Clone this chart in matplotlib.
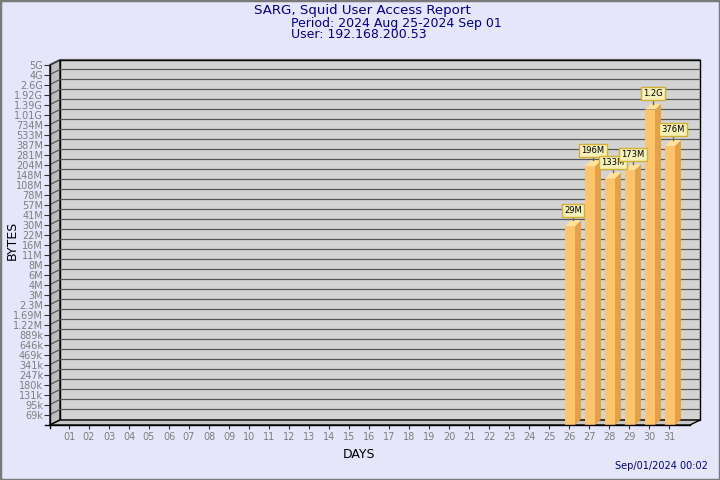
import numpy as np
import matplotlib
matplotlib.use("Agg")
import matplotlib.pyplot as plt
from matplotlib.patches import Polygon, Rectangle
from matplotlib.transforms import IdentityTransform

# ---------------- data ----------------
days = list(range(1, 32))
day_labels = [f"{d:02d}" for d in days]
bar_days = [26, 27, 28, 29, 30, 31]
bar_values = [29e6, 196e6, 133e6, 173e6, 1.2e9, 376e6]
bar_labels = ["29M", "196M", "133M", "173M", "1.2G", "376M"]
ytick_labels = ["5G", "4G", "2.6G", "1.92G", "1.39G", "1.01G", "734M", "533M",
                "387M", "281M", "204M", "148M", "108M", "78M", "57M", "41M",
                "30M", "22M", "16M", "11M", "8M", "6M", "4M", "3M", "2.3M",
                "1.69M", "1.22M", "889k", "646k", "469k", "341k", "247k",
                "180k", "131k", "95k", "69k"]
floor_value = 50e3

title = "SARG, Squid User Access Report"
period = "Period: 2024 Aug 25-2024 Sep 01"
user = "User: 192.168.200.53"
stamp = "Sep/01/2024 00:02"


def parse(s):
    mult = {"k": 1e3, "M": 1e6, "G": 1e9}
    return float(s[:-1]) * mult[s[-1]]


ytick_values = [parse(s) for s in ytick_labels]
levels = np.array([floor_value] + ytick_values[::-1])
log_levels = np.log10(levels)
idx_levels = np.arange(len(levels), dtype=float)


def fwd(v):
    v = np.asarray(v, dtype=float)
    v = np.where(v > 0, v, floor_value)
    return np.interp(np.log10(v), log_levels, idx_levels,
                     left=-1.0, right=len(levels))


def inv(i):
    i = np.asarray(i, dtype=float)
    return 10 ** np.interp(i, idx_levels, log_levels)


# ---------------- figure ----------------
W, H = 720, 480
BG = "#E6E6FA"
fig = plt.figure(figsize=(W / 100, H / 100), dpi=100, facecolor=BG)
fig.patches.append(Rectangle((0, 0), 1, 1, transform=fig.transFigure,
                             fill=False, edgecolor="#7a7a7a", lw=2.5))

ax = fig.add_axes([50 / W, 55 / H, 640 / W, 360 / H])
ax.set_facecolor("none")
for s in ax.spines.values():
    s.set_visible(False)
ax.set_yscale("function", functions=(fwd, inv))
ax.set_ylim(floor_value, ytick_values[0])
ax.set_xlim(0.05, 32.05)

ax.set_yticks(ytick_values)
ax.set_yticklabels(ytick_labels)
ax.yaxis.set_minor_locator(matplotlib.ticker.NullLocator())
ax.set_xticks(days)
ax.set_xticklabels(day_labels)
ax.tick_params(axis="y", length=4, width=0.8, color="#333333",
               labelsize=7, labelcolor="#7f7f7f", pad=1)
ax.tick_params(axis="x", length=3, width=0.8, color="#333333",
               labelsize=7, labelcolor="#7f7f7f", pad=2)

fig.canvas.draw()
ident = IdentityTransform()
DX, DY = 10, 5  # wall depth in pixels
BDX, BDY = 6, 6  # bar depth in pixels
PX = 0.72  # one pixel in points


def disp(x, y):
    return ax.transData.transform((x, y))


def poly(pts, **kw):
    p = Polygon(pts, closed=True, transform=ident, clip_on=False, **kw)
    ax.add_patch(p)
    return p


def line(xs, ys, **kw):
    ax.plot(xs, ys, transform=ident, clip_on=False, **kw)


x0, x1 = ax.get_xlim()
ybot_v, ytop_v = ax.get_ylim()
(px0, py0) = disp(x0, ybot_v)
(px1, py1) = disp(x1, ytop_v)

# back wall
poly([(px0 + DX, py0 + DY), (px1 + DX, py0 + DY),
      (px1 + DX, py1 + DY), (px0 + DX, py1 + DY)],
     facecolor="#D3D3D3", edgecolor="black", lw=1, zorder=0.5)
# side wall
poly([(px0, py0), (px0 + DX, py0 + DY), (px0 + DX, py1 + DY), (px0, py1)],
     facecolor="#BEBEBE", edgecolor="black", lw=1, zorder=0.6)
# floor
poly([(px0, py0), (px0 + DX, py0 + DY), (px1 + DX, py0 + DY), (px1, py0)],
     facecolor="#C6C6C6", edgecolor="black", lw=1, zorder=0.6)

# grid lines
for v in ytick_values:
    _, py = disp(x0, v)
    py = round(py) + 0.5
    line([px0, px0 + DX, px1 + DX], [py, py + DY, py + DY],
         color="#555555", lw=PX * 1.2, zorder=0.7)

# axis lines
line([px0, px0], [py0 - 3, py1], color="black", lw=1, zorder=3)
line([px0 - 5, px1], [py0, py0], color="black", lw=1, zorder=3)

# bars
FRONT, SIDE, TOP = "#FFC46A", "#E2A24C", "#FFE29A"
bar_left = [d - 0.2 for d in bar_days]
ax.bar(bar_left, [v - floor_value for v in bar_values], width=0.5,
       bottom=floor_value, align="edge", color=FRONT, edgecolor="none",
       zorder=2)
for xl, v, lab in zip(bar_left, bar_values, bar_labels):
    (ax_l, ay_b) = disp(xl, floor_value)
    (ax_r, ay_t) = disp(xl + 0.5, v)
    poly([(ax_r, ay_b), (ax_r + BDX, ay_b + BDY),
          (ax_r + BDX, ay_t + BDY), (ax_r, ay_t)],
         facecolor=SIDE, edgecolor="none", zorder=2)
    poly([(ax_l, ay_t), (ax_r, ay_t),
          (ax_r + BDX, ay_t + BDY), (ax_l + BDX, ay_t + BDY)],
         facecolor=TOP, edgecolor="none", zorder=2)
    cx = (ax_l + ax_r) / 2 + BDX / 2
    line([cx, cx], [ay_t + BDY, ay_t + 11], color="#666666", lw=1, zorder=3)
    ax.text(cx, ay_t + 16, lab, transform=ident, ha="center", va="center",
            fontsize=6, color="black", zorder=4, clip_on=False,
            bbox=dict(boxstyle="square,pad=0.25", facecolor="#F4F0B8",
                      edgecolor="#D2B032", lw=1))

# texts
NAVY = "#00008B"
fig.text(362 / W, 1 - 14 / H, title, ha="center", va="baseline",
         fontsize=9.6, color=NAVY)
fig.text(291 / W, 1 - 26.5 / H, period, ha="left", va="baseline",
         fontsize=9, color=NAVY)
fig.text(291 / W, 1 - 38.5 / H, user, ha="left", va="baseline",
         fontsize=9, color=NAVY)
fig.text(12 / W, 1 - 240 / H, "BYTES", rotation=90, ha="center",
         va="center", fontsize=9, color="black")
fig.text(359 / W, 1 - 455 / H, "DAYS", ha="center", va="center",
         fontsize=9, color="black")
fig.text(708 / W, 1 - 469 / H, stamp, ha="right", va="baseline",
         fontsize=7, color=NAVY)

fig.savefig("out.png", dpi=100, facecolor=BG)
